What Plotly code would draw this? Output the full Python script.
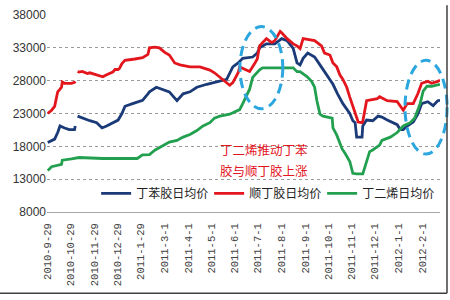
import plotly.graph_objects as go

# ---------------- data ----------------
red_dates = ["2010-09-29","2010-10-04","2010-10-08","2010-10-12","2010-10-15","2010-10-17","2010-10-18","2010-10-21",
             "2010-10-27","2010-10-30","2010-11-03","2010-11-04","2010-11-05","2010-11-07","2010-11-09","2010-11-13",
             "2010-11-20","2010-11-23","2010-12-02","2010-12-10","2010-12-15","2010-12-23","2010-12-26","2010-12-30",
             "2011-01-01","2011-01-04","2011-01-08","2011-01-18","2011-01-21","2011-01-31","2011-02-03","2011-02-07",
             "2011-02-09","2011-02-16","2011-02-22","2011-03-01","2011-03-07","2011-03-14","2011-03-21","2011-04-03",
             "2011-04-16","2011-04-25","2011-04-29","2011-05-05","2011-05-08","2011-05-16","2011-05-21","2011-05-25",
             "2011-05-29","2011-06-05","2011-06-07","2011-06-14","2011-06-20","2011-06-27","2011-06-30","2011-07-03",
             "2011-07-12","2011-07-19","2011-07-23","2011-07-30","2011-08-01","2011-08-08","2011-08-16","2011-08-21",
             "2011-08-25","2011-08-29","2011-09-13","2011-09-22","2011-09-26","2011-10-03","2011-10-07","2011-10-12",
             "2011-10-16","2011-10-20","2011-10-25","2011-10-29","2011-11-05","2011-11-09","2011-11-14","2011-11-15",
             "2011-11-20","2011-12-04","2011-12-07","2011-12-17","2011-12-30","2012-01-03","2012-01-07","2012-01-12",
             "2012-01-20","2012-01-26","2012-01-31","2012-02-08","2012-02-13","2012-02-21","2012-02-24"]
red_values = [23000,23500,24100,26300,26700,27000,27800,27600,
              27600,27600,27750,27900,None,29400,29300,29400,
              29100,29200,28900,28600,28900,29300,29700,29700,
              29900,30600,31100,31200,31300,31500,31700,32000,
              33000,33100,33000,32300,31900,30700,30400,30100,
              30100,29700,29600,29200,28900,28200,27600,27300,
              27700,29200,30100,29700,29400,30700,31300,33300,
              34400,33800,34100,35500,35300,34400,33600,33300,
              32900,34400,34100,33300,32200,31900,30700,30100,
              28900,28200,27000,25500,23000,21700,21600,21800,
              24950,25250,25550,24950,24800,24200,23500,24500,
              24500,26000,27600,27900,27600,27900,28050]

blue_dates = ["2010-09-29","2010-10-08","2010-10-12","2010-10-15","2010-10-21","2010-10-27","2010-11-03","2010-11-04",
              "2010-11-05","2010-11-07","2010-11-13","2010-11-23","2010-12-02","2010-12-09","2010-12-15","2010-12-23",
              "2010-12-30","2011-01-04","2011-01-08","2011-01-18","2011-01-31","2011-02-07","2011-02-09","2011-02-18",
              "2011-02-26","2011-03-07","2011-03-17","2011-03-25","2011-04-03","2011-04-12","2011-04-25","2011-05-12",
              "2011-05-21","2011-05-29","2011-06-05","2011-06-11","2011-06-24","2011-06-30","2011-07-03","2011-07-12",
              "2011-07-23","2011-08-01","2011-08-08","2011-08-16","2011-08-21","2011-08-25","2011-08-29","2011-09-04",
              "2011-09-13","2011-09-20","2011-09-29","2011-10-07","2011-10-13","2011-10-20","2011-10-29","2011-11-02",
              "2011-11-05","2011-11-07","2011-11-14","2011-11-15","2011-11-20","2011-11-28","2011-12-05","2011-12-10",
              "2011-12-17","2011-12-25","2011-12-30","2012-01-03","2012-01-07","2012-01-12","2012-01-20","2012-01-26",
              "2012-01-31","2012-02-08","2012-02-15","2012-02-21","2012-02-24"]
blue_values = [18600,19100,20100,21100,20800,20550,20550,21100,
               None,22600,22300,21900,21600,20800,21100,21600,
               22000,23000,24100,24500,25000,26000,26300,27000,
               26700,26300,24950,26000,26300,27000,27450,27900,
               28200,30100,30700,31400,31600,32200,33000,33600,
               33600,34400,34100,32900,30700,30400,31400,32200,
               31600,30400,28900,27450,26000,24500,23000,21900,
               21600,19400,19400,21100,22000,21900,22600,22450,
               22000,21600,21300,20550,20550,21100,21700,22900,
               24500,24800,24200,24950,25000]

green_dates = ["2010-09-29","2010-10-04","2010-10-17","2010-10-18","2010-10-30","2010-11-09","2010-12-10","2011-01-24",
               "2011-01-31","2011-02-09","2011-02-16","2011-02-26","2011-03-07","2011-03-17","2011-03-25","2011-04-03",
               "2011-04-12","2011-04-20","2011-04-29","2011-05-05","2011-05-12","2011-05-25","2011-06-07","2011-06-11",
               "2011-06-20","2011-06-24","2011-06-30","2011-07-03","2011-07-07","2011-08-16","2011-08-21","2011-08-25",
               "2011-09-03","2011-09-09","2011-09-13","2011-09-16","2011-09-20","2011-09-24","2011-10-06","2011-10-07",
               "2011-10-12","2011-10-19","2011-10-23","2011-10-29","2011-11-02","2011-11-07","2011-11-15","2011-11-20",
               "2011-11-24","2011-11-28","2011-12-07","2011-12-10","2011-12-21","2011-12-30","2012-01-03","2012-01-07",
               "2012-01-16","2012-01-22","2012-01-29","2012-02-02","2012-02-07","2012-02-13","2012-02-24"]
green_values = [14300,14900,15250,15900,16100,16300,16150,16150,
                16700,16750,17400,18100,18650,18900,19400,19800,
                20400,21100,21600,22300,22600,22900,23600,24500,
                26700,28500,29200,29650,29950,29950,29370,29370,
                28630,27900,27000,24950,22900,22600,22300,20800,
                19700,17600,16900,15700,13900,13800,13800,15700,
                17200,17450,18200,18900,19400,20100,20550,21100,
                21600,22300,24500,26400,27150,27150,27450]

tick_dates = ["2010-09-29","2010-10-29","2010-11-29","2010-12-29","2011-01-29","2011-03-01","2011-04-01","2011-05-01",
              "2011-06-01","2011-07-01","2011-08-01","2011-09-01","2011-10-01","2011-11-01","2011-12-01","2012-01-01",
              "2012-02-01"]
tick_labels = ["2010-9-29","2010-10-29","2010-11-29","2010-12-29","2011-1-29","2011-3-1","2011-4-1","2011-5-1",
               "2011-6-1","2011-7-1","2011-8-1","2011-9-1","2011-10-1","2011-11-1","2011-12-1","2012-1-1","2012-2-1"]
y_ticks = [8000, 13000, 18000, 23000, 28000, 33000, 38000]

series_names = ["丁苯胶日均价", "顺丁胶日均价", "丁二烯日均价"]
note_lines = ["丁二烯推动丁苯", "胶与顺丁胶上涨"]

# ---------------- figure ----------------
CJK = "Noto Sans CJK SC"
fig = go.Figure()
fig.add_trace(go.Scatter(x=blue_dates, y=blue_values, mode="lines", name=series_names[0],
                         line=dict(color="#1b3a78", width=2.8)))
fig.add_trace(go.Scatter(x=red_dates, y=red_values, mode="lines", name=series_names[1],
                         line=dict(color="#e3151d", width=2.8)))
fig.add_trace(go.Scatter(x=green_dates, y=green_values, mode="lines", name=series_names[2],
                         line=dict(color="#22a050", width=2.8)))

fig.update_layout(
    width=450, height=300,
    margin=dict(l=47, r=10, t=8, b=88),
    paper_bgcolor="white", plot_bgcolor="white",
    font=dict(family=CJK, size=12, color="#333"),
    showlegend=True,
    legend=dict(orientation="h", x=0.125, y=0.095, xanchor="left", yanchor="middle",
                bgcolor="rgba(0,0,0,0)", font=dict(family=CJK, size=12, color="#222"),
                entrywidth=68, tracegroupgap=0, itemwidth=30),
)
fig.update_xaxes(
    type="date", range=["2010-09-28", "2012-02-24"],
    tickvals=tick_dates, ticktext=tick_labels, tickangle=-90,
    tickfont=dict(family="Liberation Mono", size=10.5, color="#444"),
    ticklabelstandoff=6,
    showgrid=False, showline=True, linecolor="#a6a6a6", linewidth=1, ticks="", zeroline=False,
)
fig.update_yaxes(
    range=[8000, 38000], tickvals=y_ticks, ticktext=[str(v) for v in y_ticks],
    tickfont=dict(family="Liberation Sans", size=12, color="#333"),
    showgrid=True, gridcolor="#9a9a9a", gridwidth=1, griddash="3px,3px",
    showline=False, zeroline=False, ticks="",
)

# annotation text
fig.add_annotation(x=0.435, y=0.318, xref="paper", yref="paper", text=note_lines[0], showarrow=False,
                   xanchor="left", yanchor="middle", font=dict(family=CJK, size=12.5, color="#e3151d"))
fig.add_annotation(x=0.435, y=0.210, xref="paper", yref="paper", text=note_lines[1], showarrow=False,
                   xanchor="left", yanchor="middle", font=dict(family=CJK, size=12.5, color="#e3151d"))

# dashed ellipses
ell = dict(color="#2ba6de", width=3, dash="10px,6px")
fig.add_shape(type="circle", xref="paper", yref="paper", x0=0.491, x1=0.600, y0=0.524, y1=0.941, line=ell)
fig.add_shape(type="circle", xref="paper", yref="paper", x0=0.911, x1=1.018, y0=0.294, y1=0.770, line=ell)

# chart border (right & bottom)
fig.add_shape(type="line", xref="paper", yref="paper", x0=1.0178, x1=1.0178, y0=-0.412, y1=1.05,
              line=dict(color="#404040", width=1.5))
fig.add_shape(type="line", xref="paper", yref="paper", x0=-0.2, x1=1.0178, y0=-0.412, y1=-0.412,
              line=dict(color="#404040", width=1.5))

fig.write_html("out.html")
